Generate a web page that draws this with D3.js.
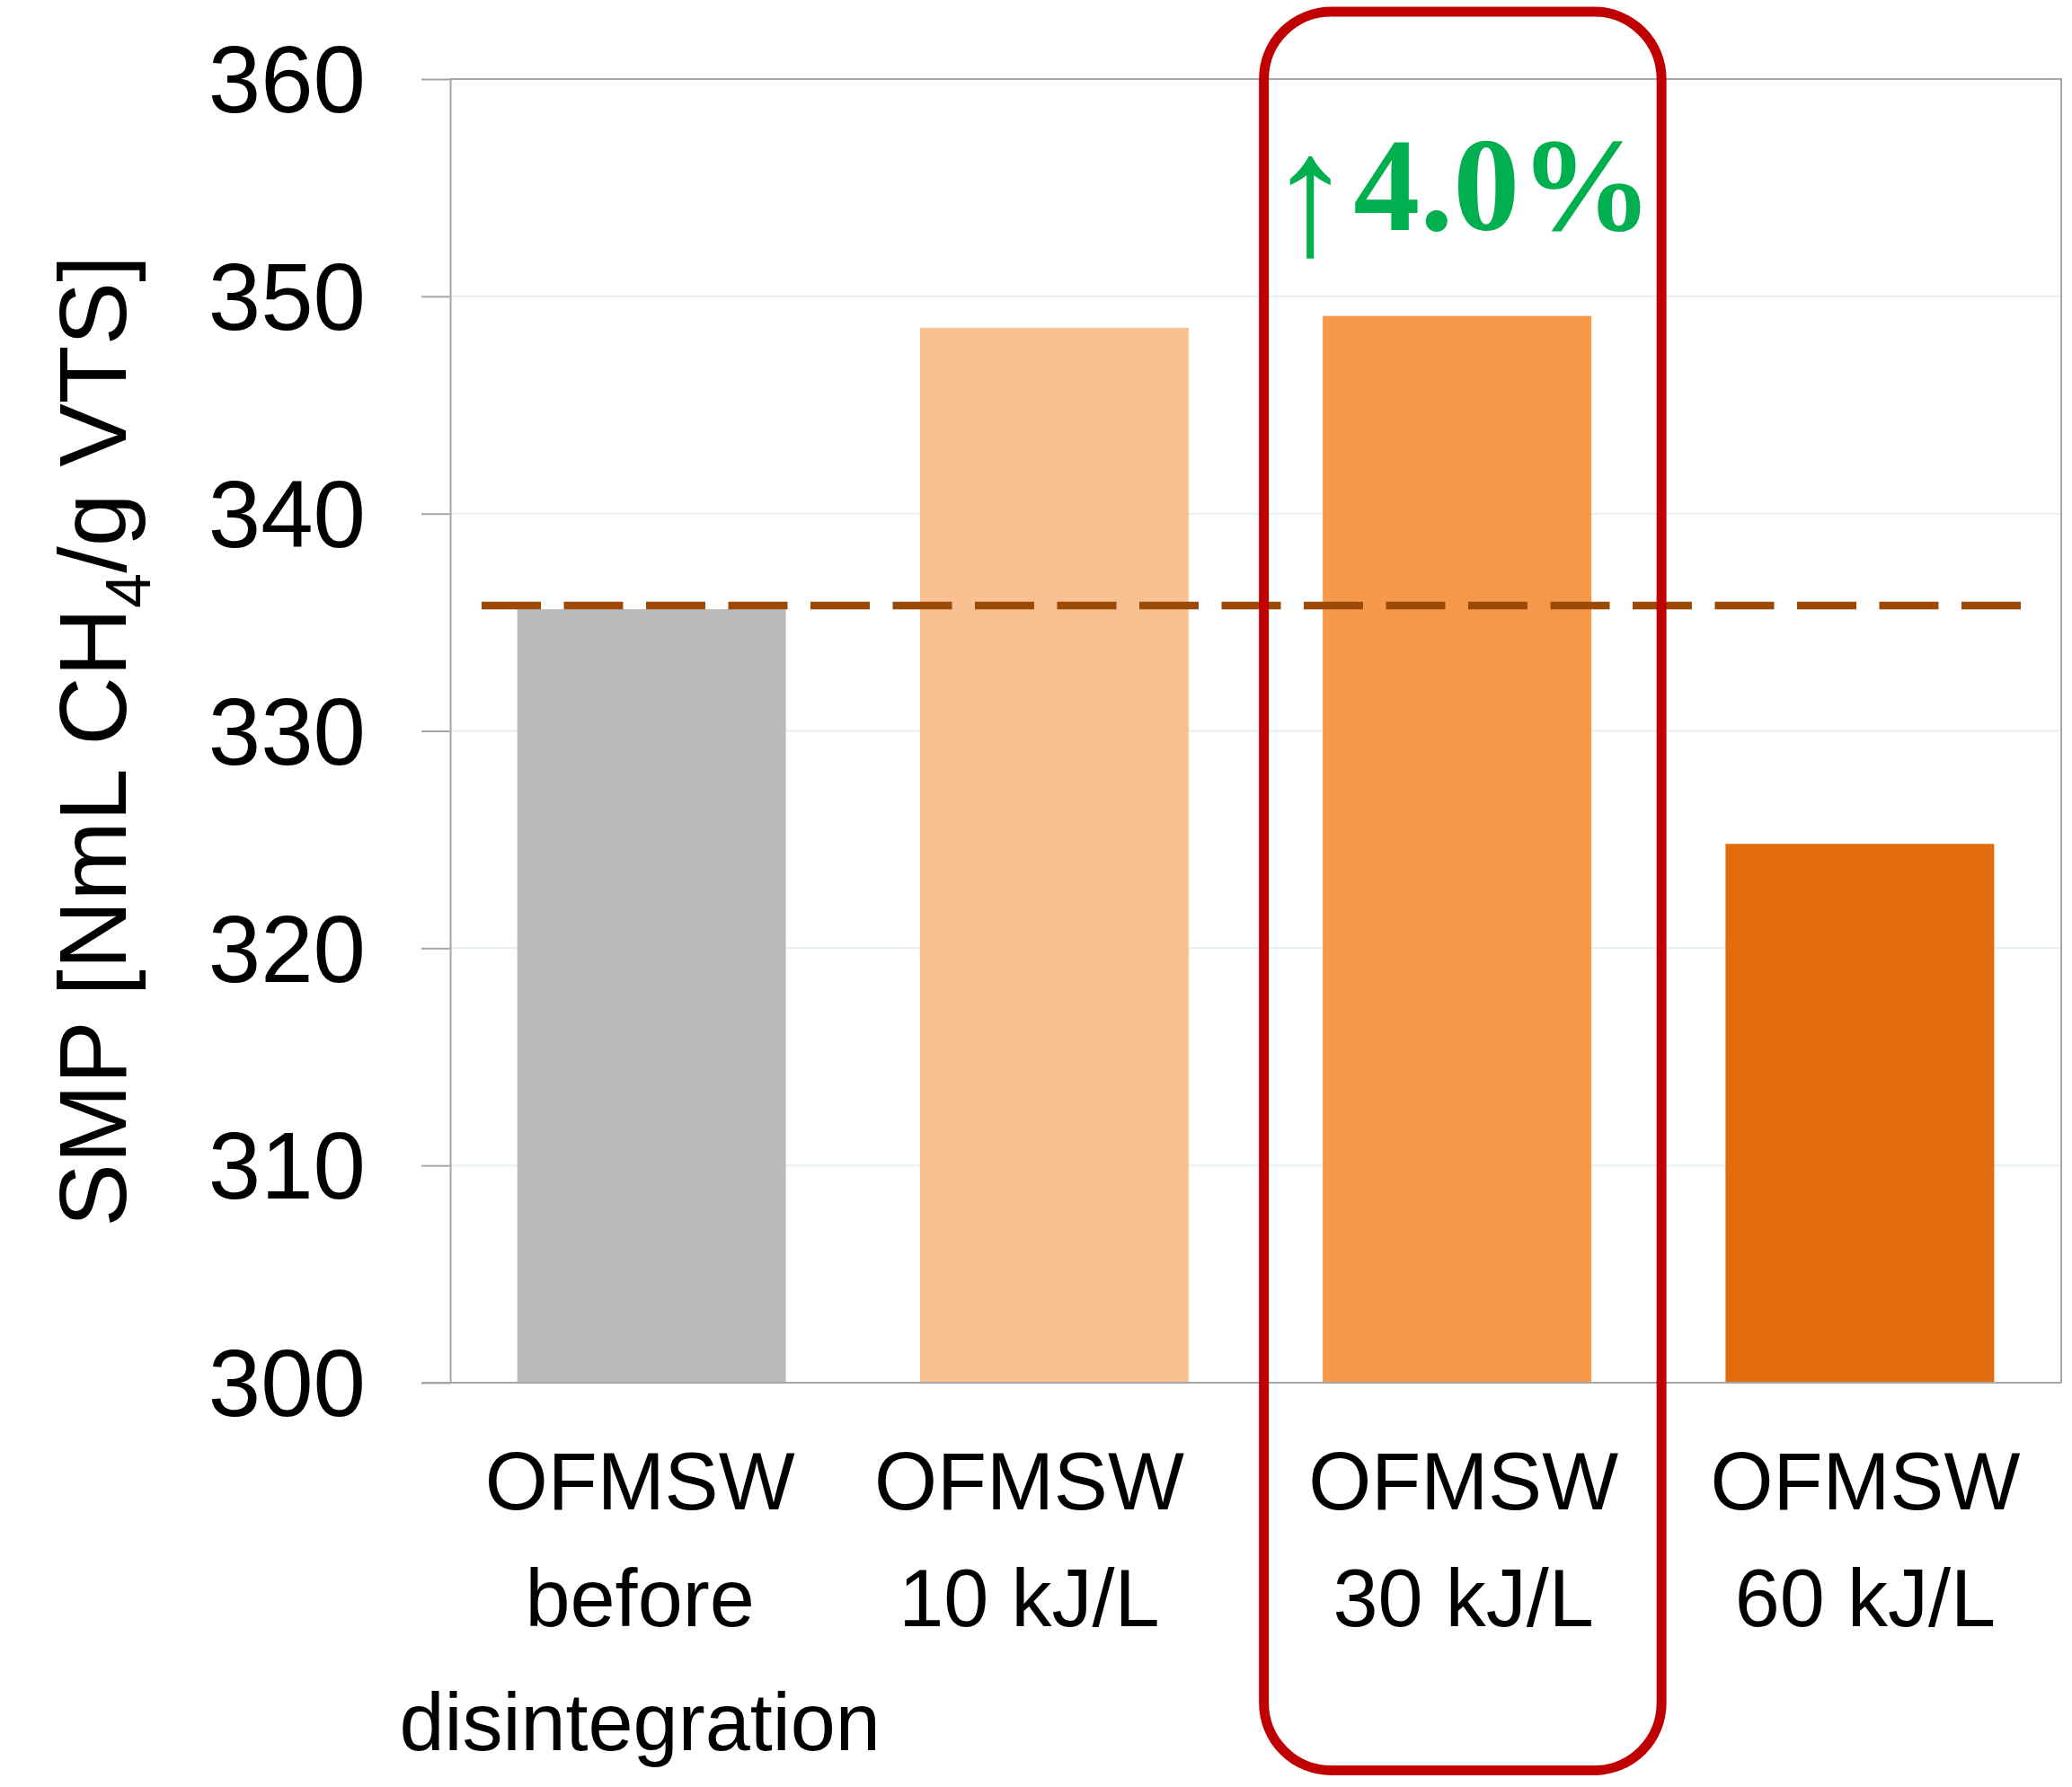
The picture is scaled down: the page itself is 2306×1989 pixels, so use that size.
<!DOCTYPE html>
<html><head><meta charset="utf-8">
<script src="https://cdn.jsdelivr.net/npm/d3@7"></script>
<style>body{margin:0;background:#fff} svg{display:block}</style>
</head><body>
<svg id="chart" width="2306" height="1989"></svg>
<script>
// ---- data ----
const categories = ["OFMSW before disintegration", "OFMSW 10 kJ/L", "OFMSW 30 kJ/L", "OFMSW 60 kJ/L"];
const labelLines = [["OFMSW", "before", "disintegration"], ["OFMSW", "10 kJ/L"], ["OFMSW", "30 kJ/L"], ["OFMSW", "60 kJ/L"]];
const smpValues = [335.6, 348.55, 349.1, 324.8];
const barColors = ["#BABABA", "#F9C191", "#F6984A", "#E36C0D"];
const yTicks = [300, 310, 320, 330, 340, 350, 360];
const yDomain = [300, 360];
const highlightIndex = 2;
const increaseArrow = "\u2191";
const increaseLabel = "4.0%";

// ---- layout ----
const W = 2306, H = 1989;
const plot = {left: 501, right: 2294, top: 88, bottom: 1539};
const labelShift = [-13, -28, 7, 6];
const lineBaselines = [1680, 1810, 1948];
const sans = "'Liberation Sans', Arial, sans-serif";
const serif = "'Liberation Serif', 'Times New Roman', serif";
const axisGray = "#A6A6A6";

const svg = d3.select("#chart");
svg.append("rect").attr("width", W).attr("height", H).attr("fill", "#fff");

const y = d3.scaleLinear().domain(yDomain).range([plot.bottom, plot.top]);
const x = d3.scaleBand().domain(categories).range([plot.left, plot.right])
  .paddingInner(0.333).paddingOuter(0.1665);

// gridlines
svg.append("g").selectAll("line")
  .data(yTicks.filter(t => t > yDomain[0] && t < yDomain[1]))
  .join("line")
  .attr("x1", plot.left).attr("x2", plot.right)
  .attr("y1", d => y(d)).attr("y2", d => y(d))
  .attr("stroke", "#E6F0ED").attr("stroke-width", 2);

// bars
svg.append("g").selectAll("rect")
  .data(smpValues)
  .join("rect")
  .attr("x", (d, i) => x(categories[i]))
  .attr("width", x.bandwidth())
  .attr("y", d => y(d))
  .attr("height", d => y(yDomain[0]) - y(d))
  .attr("fill", (d, i) => barColors[i]);

// y axis
const yAxis = svg.append("g")
  .attr("transform", `translate(${plot.left},0)`)
  .call(d3.axisLeft(y).tickValues(yTicks).tickSize(32).tickSizeOuter(0).tickPadding(62));
yAxis.select(".domain").attr("stroke", axisGray).attr("stroke-width", 2);
yAxis.selectAll(".tick line").attr("stroke", axisGray).attr("stroke-width", 2);
yAxis.selectAll(".tick text")
  .attr("font-family", sans).attr("font-size", 105).attr("fill", "#000")
  .attr("dy", "0.35em");

// x axis line
const xAxis = svg.append("g")
  .attr("transform", `translate(0,${plot.bottom})`)
  .call(d3.axisBottom(x).tickSize(0).tickFormat(""));
xAxis.select(".domain").attr("stroke", axisGray).attr("stroke-width", 2)
  .attr("d", `M${plot.left - 32},0H${plot.right}`);

// top and right border
svg.append("line").attr("x1", plot.left).attr("x2", plot.right)
  .attr("y1", plot.top).attr("y2", plot.top)
  .attr("stroke", axisGray).attr("stroke-width", 2);
svg.append("line").attr("x1", plot.right).attr("x2", plot.right)
  .attr("y1", plot.top - 1).attr("y2", plot.bottom)
  .attr("stroke", axisGray).attr("stroke-width", 2);

// category labels
const labels = svg.append("g").attr("font-family", sans).attr("font-size", 90)
  .attr("fill", "#000").attr("text-anchor", "middle");
labelLines.forEach((lines, i) => {
  const cx = x(categories[i]) + x.bandwidth() / 2 + labelShift[i];
  lines.forEach((t, j) => {
    labels.append("text").attr("x", cx).attr("y", lineBaselines[j]).text(t);
  });
});

// y axis title
const title = svg.append("text")
  .attr("transform", `translate(140,825) rotate(-90)`)
  .attr("text-anchor", "middle")
  .attr("font-family", sans).attr("font-size", 106).attr("fill", "#000");
title.append("tspan").text("SMP [NmL CH");
title.append("tspan").attr("font-size", 70).attr("dy", 27).text("4");
title.append("tspan").attr("dy", -27).text("/g VTS]");

// reference dashed line at the untreated level
svg.append("line")
  .attr("x1", 536).attr("x2", 2249)
  .attr("y1", y(smpValues[0]) - 4).attr("y2", y(smpValues[0]) - 4)
  .attr("stroke", "#9C4A08").attr("stroke-width", 8.5)
  .attr("stroke-dasharray", "66 25.5");

// highlight box
const hx = x(categories[highlightIndex]);
svg.append("rect")
  .attr("x", hx - 65.5).attr("y", 13)
  .attr("width", 442.5).attr("height", 1957.5)
  .attr("rx", 75).attr("ry", 75)
  .attr("fill", "none").attr("stroke", "#C00000").attr("stroke-width", 11);

// increase annotation: arrow + percentage
svg.append("text")
  .attr("x", hx - 62).attr("y", 282)
  .attr("font-family", serif).attr("font-size", 192).attr("fill", "#00B050")
  .text(increaseArrow);
svg.append("text")
  .attr("x", hx + 34).attr("y", 256)
  .attr("font-family", serif).attr("font-weight", "bold")
  .attr("font-size", 148).attr("fill", "#00B050")
  .text(increaseLabel);
</script>
</body></html>
